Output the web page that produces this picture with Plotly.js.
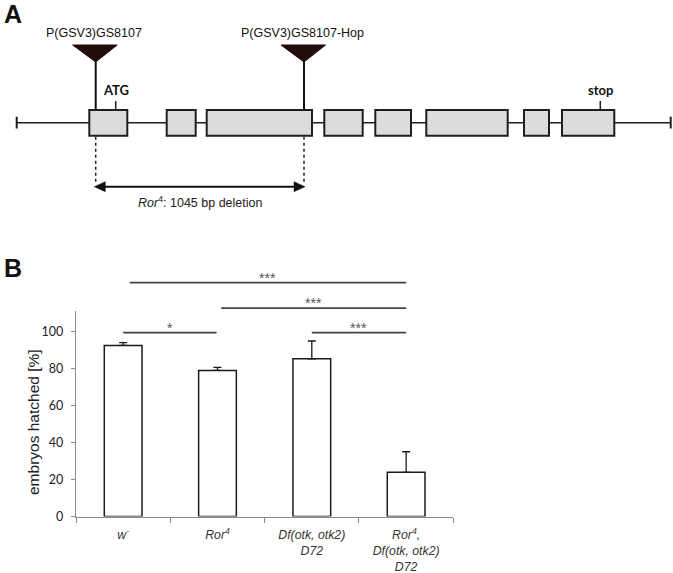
<!DOCTYPE html>
<html>
<head>
<meta charset="utf-8">
<script src="https://cdn.plot.ly/plotly-3.0.1.min.js"></script>
<style>
  html, body { margin: 0; padding: 0; background: #ffffff; }
  #chart { width: 673px; height: 573px; }
</style>
</head>
<body>
<div id="chart"></div>
<script>
// ---------- Panel B data ----------
const categories = ['w-', 'Ror4', 'Df(otk, otk2) D72', 'Ror4, Df(otk, otk2) D72'];
const tickLabels = ['w<sup>-</sup>', 'Ror<sup>4</sup>', 'Df(otk, otk2)<br>D72', 'Ror<sup>4</sup>,<br>Df(otk, otk2)<br>D72'];
const hatched = [92.5, 79.0, 85.3, 23.9];
const hatchedErr = [1.5, 1.6, 9.6, 11.1];
const yTicks = [0, 20, 40, 60, 80, 100];
const yTitle = 'embryos hatched [%]';

// significance brackets (category positions and bracket height in %)
const sigFrom = [0.07, 1.04, 2.0, 0.0];
const sigTo = [3.0, 3.0, 3.0, 0.99];
const sigLevel = [126.4, 112.7, 99.4, 99.4];
const sigLabel = ['***', '***', '***', '*'];

// ---------- Panel A data (gene model, in diagram units) ----------
const geneSpan = [16.7, 670.7];
const exonStart = [89.3, 166.7, 206.7, 324.3, 375.3, 426.3, 524.0, 562.0];
const exonEnd = [127.3, 195.7, 312.0, 362.7, 411.0, 507.7, 549.0, 614.3];
const insertionPos = [95.7, 304.0];
const insertionLabels = ['P(GSV3)GS8107', 'P(GSV3)GS8107-Hop'];
const codonPos = [115.7, 600.3];
const codonLabels = ['ATG', 'stop'];
const deletionSpan = [94.3, 305.0];
const deletionLabel = '<i>Ror</i><sup>4</sup>: 1045 bp deletion';

// ---------- layout geometry ----------
const W = 673, H = 573;
const px = v => v / W;
const py = v => 1 - v / H;
const BAR_L = 76, BAR_R = 453.3, BAR_BOTTOM = 516.5, BAR_TOP = 311.2;
const Y_MAX = 111;
const DIA_BOTTOM = 215; // diagram occupies top 215 px

function catToPaper(c) {
  return px(BAR_L) + (c + 0.5) / categories.length * (px(BAR_R) - px(BAR_L));
}
function valToPaper(v) {
  return py(BAR_BOTTOM) + v / Y_MAX * (py(BAR_TOP) - py(BAR_BOTTOM));
}

const barTrace = {
  type: 'bar',
  x: categories,
  y: hatched,
  width: 0.4,
  marker: { color: '#ffffff', line: { color: '#1a1a1a', width: 1.5 } },
  error_y: {
    type: 'data', symmetric: false, array: hatchedErr,
    arrayminus: hatchedErr.map(() => 0),
    color: '#1a1a1a', thickness: 1.3, width: 4
  },
  xaxis: 'x', yaxis: 'y',
  hoverinfo: 'skip', showlegend: false
};

// backbone of gene model
const diaTrace = {
  type: 'scatter', mode: 'lines',
  x: geneSpan, y: [122.7, 122.7],
  line: { color: '#1e1e1e', width: 1.6 },
  xaxis: 'x2', yaxis: 'y2', hoverinfo: 'skip', showlegend: false
};

const shapes = [];
const annotations = [];
const dk = '#1e1e1e';
const EX_TOP = 110, EX_BOT = 135.7;

// gene end ticks
geneSpan.forEach(x => shapes.push({
  type: 'line', xref: 'x2', yref: 'y2', x0: x, x1: x, y0: 116.7, y1: 128.5,
  line: { color: dk, width: 2 }
}));
// exons
exonStart.forEach((s, i) => shapes.push({
  type: 'rect', xref: 'x2', yref: 'y2', x0: s, x1: exonEnd[i], y0: EX_TOP, y1: EX_BOT,
  fillcolor: '#dcdcdc', line: { color: dk, width: 2 }
}));
// insertions
insertionPos.forEach((x, i) => {
  shapes.push({
    type: 'line', xref: 'x2', yref: 'y2', x0: x, x1: x, y0: 60, y1: EX_TOP,
    line: { color: '#111111', width: 2 }
  });
  shapes.push({
    type: 'path', xref: 'x2', yref: 'y2',
    path: `M ${x - 23},45 L ${x + 21.5},45 L ${x},62 Z`,
    fillcolor: '#230a0a', line: { color: '#230a0a', width: 1 }
  });
  annotations.push({
    xref: 'x2', yref: 'y2', x: x - 2, y: 33, text: insertionLabels[i], showarrow: false,
    xanchor: 'center', yanchor: 'middle',
    font: { family: 'Arial, Liberation Sans, sans-serif', size: 12.5, color: '#111111' }
  });
});
// codons
codonPos.forEach((x, i) => {
  shapes.push({
    type: 'line', xref: 'x2', yref: 'y2', x0: x, x1: x, y0: 101, y1: EX_TOP,
    line: { color: dk, width: 1.5 }
  });
  annotations.push({
    xref: 'x2', yref: 'y2', x: x, y: 90, text: '<b>' + codonLabels[i] + '</b>', showarrow: false,
    xanchor: 'center', yanchor: 'middle',
    font: { family: 'Lato, Open Sans, sans-serif', size: 13, color: '#111111' }
  });
});
// dashed lines down to deletion arrow
insertionPos.forEach(x => shapes.push({
  type: 'line', xref: 'x2', yref: 'y2', x0: x, x1: x, y0: EX_BOT + 1, y1: 184,
  line: { color: dk, width: 1.5, dash: 'dot' }
}));
// deletion double arrow
const AY = 186.7, AH = 11, AW = 5;
shapes.push({
  type: 'line', xref: 'x2', yref: 'y2', x0: deletionSpan[0] + AH - 1, x1: deletionSpan[1] - AH + 1, y0: AY, y1: AY,
  line: { color: '#111111', width: 2 }
});
shapes.push({
  type: 'path', xref: 'x2', yref: 'y2',
  path: `M ${deletionSpan[0]},${AY} L ${deletionSpan[0] + AH},${AY - AW} L ${deletionSpan[0] + AH},${AY + AW} Z`,
  fillcolor: '#111111', line: { color: '#111111', width: 0.5 }
});
shapes.push({
  type: 'path', xref: 'x2', yref: 'y2',
  path: `M ${deletionSpan[1]},${AY} L ${deletionSpan[1] - AH},${AY - AW} L ${deletionSpan[1] - AH},${AY + AW} Z`,
  fillcolor: '#111111', line: { color: '#111111', width: 0.5 }
});
annotations.push({
  xref: 'x2', yref: 'y2', x: (deletionSpan[0] + deletionSpan[1]) / 2, y: 202,
  text: deletionLabel, showarrow: false, xanchor: 'center', yanchor: 'middle',
  font: { family: 'Arial, Liberation Sans, sans-serif', size: 12.5, color: '#222222' }
});

// significance brackets
sigFrom.forEach((f, i) => {
  const y = valToPaper(sigLevel[i]);
  shapes.push({
    type: 'line', xref: 'paper', yref: 'paper',
    x0: catToPaper(f), x1: catToPaper(sigTo[i]), y0: y, y1: y,
    line: { color: '#444444', width: 1.7 }
  });
  annotations.push({
    xref: 'paper', yref: 'paper', x: (catToPaper(f) + catToPaper(sigTo[i])) / 2, y: y,
    yshift: -5, text: sigLabel[i], showarrow: false, xanchor: 'center', yanchor: 'bottom',
    font: { family: 'Arial, Liberation Sans, sans-serif', size: 14, color: '#555555' }
  });
});

// y-axis title
annotations.push({
  xref: 'paper', yref: 'paper', x: px(33), y: py(422), text: yTitle, showarrow: false,
  textangle: -90, xanchor: 'center', yanchor: 'middle',
  font: { family: 'Arial, Liberation Sans, sans-serif', size: 15.5, color: '#222222' }
});

// panel letters
annotations.push({
  xref: 'paper', yref: 'paper', x: px(2), y: py(14), text: '<b>A</b>', showarrow: false,
  xanchor: 'left', yanchor: 'middle',
  font: { family: 'Arial, Liberation Sans, sans-serif', size: 25, color: '#111111' }
});
annotations.push({
  xref: 'paper', yref: 'paper', x: px(2), y: py(267.5), text: '<b>B</b>', showarrow: false,
  xanchor: 'left', yanchor: 'middle',
  font: { family: 'Arial, Liberation Sans, sans-serif', size: 25, color: '#111111' }
});

const layout = {
  width: W, height: H,
  margin: { l: 0, r: 0, t: 0, b: 0, pad: 0 },
  paper_bgcolor: '#ffffff',
  plot_bgcolor: 'rgba(0,0,0,0)',
  showlegend: false,
  bargap: 0,
  xaxis: {
    domain: [px(BAR_L), px(BAR_R)], anchor: 'y',
    type: 'category', categoryorder: 'array', categoryarray: categories,
    tickmode: 'array', tickvals: categories, ticktext: tickLabels,
    tickson: 'boundaries', ticks: 'outside', ticklen: 5, tickcolor: '#8a8a8a', tickwidth: 1,
    showline: true, linecolor: '#8a8a8a', linewidth: 1.2,
    showgrid: false, zeroline: false,
    ticklabelstandoff: 7,
    tickfont: { family: 'Arial, Liberation Sans, sans-serif', size: 12.3, color: '#333333', style: 'italic' },
    fixedrange: true
  },
  yaxis: {
    domain: [py(BAR_BOTTOM), py(BAR_TOP)], anchor: 'x',
    range: [0, Y_MAX], tickmode: 'array', tickvals: yTicks,
    ticks: 'outside', ticklen: 4, tickcolor: '#8a8a8a', tickwidth: 1,
    showline: true, linecolor: '#8a8a8a', linewidth: 1.2,
    showgrid: false, zeroline: false,
    ticklabelstandoff: 5,
    tickfont: { family: 'Lato, Open Sans, sans-serif', size: 12.5, color: '#222222' },
    fixedrange: true
  },
  xaxis2: {
    domain: [0, 1], anchor: 'y2', range: [0, W], visible: false, fixedrange: true
  },
  yaxis2: {
    domain: [py(DIA_BOTTOM), 1], anchor: 'x2', range: [DIA_BOTTOM, 0], visible: false, fixedrange: true
  },
  shapes: shapes,
  annotations: annotations
};

Plotly.newPlot('chart', [diaTrace, barTrace], layout, { staticPlot: true, displayModeBar: false });
</script>
</body>
</html>
